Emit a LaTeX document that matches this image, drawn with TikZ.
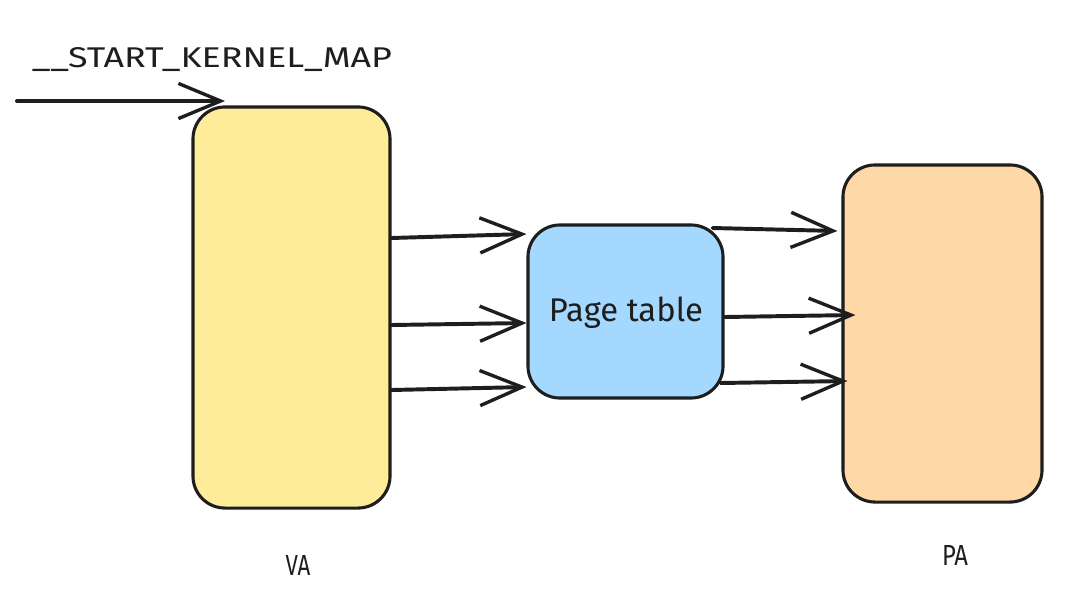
\documentclass[tikz,border=0pt]{standalone}
\usepackage{fontspec}
\setmainfont{Fira Sans}
\usetikzlibrary{arrows.meta}
\definecolor{vayel}{HTML}{FFEC99}
\definecolor{ptblue}{HTML}{A5D8FF}
\definecolor{paorg}{HTML}{FFD8A8}
\definecolor{ink}{HTML}{1E1E1E}
\tikzset{
  boxstyle/.style={draw=ink, line width=2.2pt, rounded corners=0.8cm, inner sep=0pt},
  arr/.style={draw=ink, line width=2.8pt, line cap=round, -{Straight Barb[length=30pt,width=25pt,line width=2.4pt]}},
  lbl/.style={text=ink, inner sep=0pt}
}
\begin{document}
\begin{tikzpicture}[x=0.025cm, y=-0.025cm]
\useasboundingbox[fill=white] (0,0) rectangle (1078,600);
\node[boxstyle, fill=vayel, minimum width=4.925cm, minimum height=10.025cm] (va) at (291.5,307.5) {};
\node[boxstyle, fill=ptblue, minimum width=4.875cm, minimum height=4.325cm] (pt) at (625.5,311.5) {};
\node[boxstyle, fill=paorg, minimum width=4.975cm, minimum height=8.425cm] (pa) at (942.5,333.5) {};
\node[lbl] (ptl) at (626,313) {\resizebox{3.85cm}{!}{Page table}};
\node[lbl] (skm) at (212,60) {\resizebox{9cm}{0.5cm}{\_\_START\_KERNEL\_MAP}};
\node[lbl] (val) at (298,565) {\resizebox{0.62cm}{0.5cm}{VA}};
\node[lbl] (pal) at (955,555) {\resizebox{0.65cm}{0.5cm}{PA}};
\coordinate (start) at (17,101);
\coordinate (tip) at (225,101);
\draw[arr] (start) -- (tip);
\draw[arr] (va.east |- 0,238) -- (pt.west |- 535,234);
\draw[arr] (va.east |- 0,325) -- (pt.west |- 0,323);
\draw[arr] (va.east |- 0,390) -- (pt.west |- 0,387);
\draw[arr] ([xshift=-0.3cm]pt.east |- 0,228) -- ([xshift=-0.1cm]pa.west |- 0,231);
\draw[arr] (pt.east |- 0,317) -- ([xshift=0.35cm]pa.west |- 0,315);
\draw[arr] ([xshift=-0.1cm]pt.east |- 0,383) -- ([xshift=0.15cm]pa.west |- 0,381);
\end{tikzpicture}
\end{document}
